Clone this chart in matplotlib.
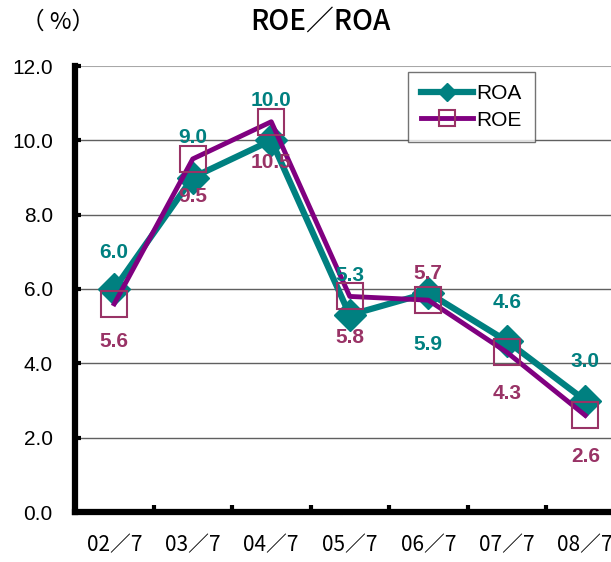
import matplotlib.pyplot as plt
from matplotlib.ticker import FixedLocator

# データ
periods = ["02／7", "03／7", "04／7", "05／7", "06／7", "07／7", "08／7"]
roa = [6.0, 9.0, 10.0, 5.3, 5.9, 4.6, 3.0]
roe = [5.6, 9.5, 10.5, 5.8, 5.7, 4.3, 2.6]
# ラベルの上下オフセット (pixel)
roa_offset = [36, 40, 40, 40, -52, 39, 39]
roe_offset = [-38, -38, -41, -41, 27, -41, -41]

TEAL = "#008080"
PURPLE = "#800080"
ROE_LABEL = "#993366"

plt.rcParams['font.family'] = ['Liberation Sans', 'Noto Sans CJK JP', 'DejaVu Sans']

fig = plt.figure(figsize=(6.11, 5.62), dpi=100)
ax = fig.add_axes([75 / 611, 50 / 562, 549.5 / 611, 446 / 562])

x = list(range(len(periods)))
ax.plot(x, roa, color=TEAL, lw=4.5, marker="D", ms=16, mfc=TEAL, mec=TEAL,
        label="ROA", zorder=3)
ax.plot(x, roe, color=PURPLE, lw=3.5, marker="s", ms=19, mfc="none", mec=ROE_LABEL,
        mew=1.5, label="ROE", zorder=4)

for i in x:
    ax.annotate(f"{roa[i]:.1f}", (i, roa[i]), xytext=(0, roa_offset[i]),
                textcoords="offset pixels", ha="center", va="center",
                color=TEAL, fontsize=15, fontweight="bold", zorder=5)
    ax.annotate(f"{roe[i]:.1f}", (i, roe[i]), xytext=(0, roe_offset[i]),
                textcoords="offset pixels", ha="center", va="center",
                color=ROE_LABEL, fontsize=15, fontweight="bold", zorder=5)

ax.set_xlim(-0.5, len(periods) - 0.5)
ax.set_ylim(0, 12)
ax.set_yticks([0, 2, 4, 6, 8, 10, 12])
ax.set_yticklabels([f"{v:.1f}" for v in [0, 2, 4, 6, 8, 10, 12]], fontsize=15)
ax.set_xticks(x)
ax.set_xticklabels(periods, fontsize=15, family=['Noto Sans CJK JP'])
ax.xaxis.set_minor_locator(FixedLocator([i + 0.5 for i in x[:-1]]))
ax.tick_params(axis="x", which="major", length=0, pad=16)
ax.tick_params(axis="x", which="minor", direction="in", length=5, width=3)
ax.tick_params(axis="y", direction="in", length=4, width=3, pad=16)

for v in [2, 4, 6, 8, 10]:
    ax.axhline(v, color="#606060", lw=1, zorder=1)
ax.axhline(12, color="#a8a8a8", lw=1.5, zorder=1)

for s in ["top", "right"]:
    ax.spines[s].set_visible(False)
ax.spines["left"].set_linewidth(4.5)
ax.spines["bottom"].set_linewidth(4.5)

leg = ax.legend(loc="upper left", bbox_to_anchor=(333 / 549.5, 440 / 446),
                fontsize=15, frameon=True, fancybox=False, handlelength=2.5,
                handletextpad=0.2, borderpad=0.6, labelspacing=0.35,
                borderaxespad=0, markerscale=0.6)
leg.get_frame().set_edgecolor("#505050")
leg.get_frame().set_linewidth(1)

fig.text(320 / 611, 1 - 22 / 562, "ROE／ROA", ha="center", va="center",
         fontsize=20, fontweight="medium", family=['Noto Sans CJK JP'])
fig.text(58 / 611, 1 - 22 / 562, "（ %）", ha="center", va="center",
         fontsize=17, family=['Noto Sans CJK JP'])

fig.savefig("out.png", dpi=100)
